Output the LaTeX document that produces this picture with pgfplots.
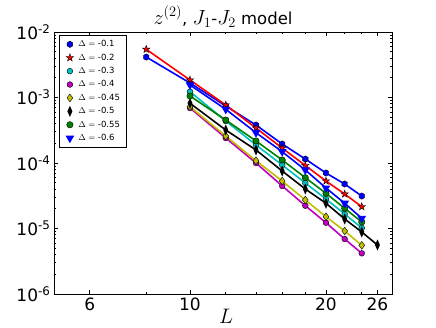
\RequirePackage{fix-cm}
\documentclass[border=0pt]{standalone}
\usepackage{fontspec}
\setmainfont{DejaVu Sans}
\usepackage{pgfplots}
\pgfplotsset{compat=1.18}
\usetikzlibrary{plotmarks}

\definecolor{mcyan}{rgb}{0,0.75,0.75}
\definecolor{mmag}{rgb}{0.75,0,0.75}
\definecolor{myel}{rgb}{0.75,0.75,0}
\definecolor{mgreen}{rgb}{0,0.5,0}

% math in the title is set larger than the text, as in the original
\newcommand\mth[1]{{\fontsize{20.5}{23}\selectfont$#1$}}

% filled hexagon, like matplotlib 'h'
\pgfdeclareplotmark{hexagon*}{%
  \pgfpathmoveto{\pgfpointpolar{90}{1.1\pgfplotmarksize}}%
  \pgfpathlineto{\pgfpointpolar{150}{1.1\pgfplotmarksize}}%
  \pgfpathlineto{\pgfpointpolar{210}{1.1\pgfplotmarksize}}%
  \pgfpathlineto{\pgfpointpolar{270}{1.1\pgfplotmarksize}}%
  \pgfpathlineto{\pgfpointpolar{330}{1.1\pgfplotmarksize}}%
  \pgfpathlineto{\pgfpointpolar{30}{1.1\pgfplotmarksize}}%
  \pgfpathclose\pgfusepathqfillstroke}
% filled five-pointed star, like matplotlib '*'
\pgfdeclareplotmark{fstar}{%
  \pgfpathmoveto{\pgfpointpolar{90}{1.4\pgfplotmarksize}}%
  \pgfpathlineto{\pgfpointpolar{126}{0.55\pgfplotmarksize}}%
  \pgfpathlineto{\pgfpointpolar{162}{1.4\pgfplotmarksize}}%
  \pgfpathlineto{\pgfpointpolar{198}{0.55\pgfplotmarksize}}%
  \pgfpathlineto{\pgfpointpolar{234}{1.4\pgfplotmarksize}}%
  \pgfpathlineto{\pgfpointpolar{270}{0.55\pgfplotmarksize}}%
  \pgfpathlineto{\pgfpointpolar{306}{1.4\pgfplotmarksize}}%
  \pgfpathlineto{\pgfpointpolar{342}{0.55\pgfplotmarksize}}%
  \pgfpathlineto{\pgfpointpolar{18}{1.4\pgfplotmarksize}}%
  \pgfpathlineto{\pgfpointpolar{54}{0.55\pgfplotmarksize}}%
  \pgfpathclose\pgfusepathqfillstroke}

\pgfplotsset{
  ser/.style={color=#1, line width=1.6pt,
    mark options={fill=#1, draw=black, line width=0.4pt, solid}},
}

\begin{document}
\begin{tikzpicture}
\begin{axis}[
  name=ax,
  xmode=log, ymode=log,
  scale only axis, width=338pt, height=262pt,
  xmin=5, xmax=28, ymin=1e-6, ymax=1e-2,
  xtick={6,10,20,26}, xticklabels={6,10,20,26},
  minor xtick={8,12,14,16,18,22,24},
  ytick={1e-6,1e-5,1e-4,1e-3,1e-2},
  yticklabels={10\textsuperscript{-6},10\textsuperscript{-5},10\textsuperscript{-4},
               10\textsuperscript{-3},10\textsuperscript{-2}},
  minor ytick={2e-6,3e-6,4e-6,5e-6,6e-6,7e-6,8e-6,9e-6,
               2e-5,3e-5,4e-5,5e-5,6e-5,7e-5,8e-5,9e-5,
               2e-4,3e-4,4e-4,5e-4,6e-4,7e-4,8e-4,9e-4,
               2e-3,3e-3,4e-3,5e-3,6e-3,7e-3,8e-3,9e-3},
  tick label style={font=\fontsize{17}{19}\selectfont},
  major tick length=4.5pt, minor tick length=2.5pt,
  every tick/.style={black, line width=0.8pt},
  axis line style={line width=0.9pt},
  title={\mth{z^{(2)}}, \mth{J_1}-\mth{J_2} model},
  title style={font=\fontsize{16.5}{18}\selectfont, yshift=-5pt},
  xlabel={$L$},
  xlabel style={font=\fontsize{21}{24}\selectfont, yshift=8pt, xshift=3pt},
  legend style={at={(axis description cs:0.0148,0.9885)}, anchor=north west,
    draw=black, line width=0.8pt, font=\fontsize{8.5}{10}\selectfont,
    row sep=1.6pt, inner xsep=4pt, inner ysep=3pt},
  legend cell align=left,
  legend image code/.code={\draw[#1] plot coordinates {(0.2cm,0cm)};
    \path (0cm,0cm) (0.4cm,0cm);},
]
\addplot[ser=blue, mark=hexagon*, mark size=2.9pt] coordinates {
  (8,4.15e-3)(10,1.665e-3)(12,7.42e-4)(14,3.80e-4)(16,1.95e-4)
  (18,1.15e-4)(20,7.04e-5)(22,4.78e-5)(24,3.13e-5)};
\addplot[ser=red, mark=fstar, mark size=2.8pt] coordinates {
  (8,5.44e-3)(10,1.85e-3)(12,7.68e-4)(14,3.42e-4)(16,1.69e-4)
  (18,9.16e-5)(20,5.31e-5)(22,3.36e-5)(24,2.15e-5)};
\addplot[ser=mcyan, mark=*, mark size=2.9pt] coordinates {
  (10,1.226e-3)(12,4.38e-4)(14,1.883e-4)(16,9.32e-5)
  (18,4.95e-5)(20,2.82e-5)(22,1.665e-5)(24,1.018e-5)};
\addplot[ser=mmag, mark=*, mark size=2.9pt] coordinates {
  (10,6.91e-4)(12,2.41e-4)(14,1.0e-4)(16,4.46e-5)
  (18,2.23e-5)(20,1.226e-5)(22,6.91e-6)(24,4.18e-6)};
\addplot[ser=myel, mark=diamond*, mark size=3.9pt] coordinates {
  (10,7.24e-4)(12,2.58e-4)(14,1.084e-4)(16,5.31e-5)
  (18,2.72e-5)(20,1.514e-5)(22,9.16e-6)(24,5.54e-6)};
\addplot[ser=black, mark=diamond*, mark size=3.6pt,
  mark options={xscale=0.6}] coordinates {
  (10,8.16e-4)(12,3.19e-4)(14,1.579e-4)(16,7.55e-5)
  (18,4.01e-5)(20,2.43e-5)(22,1.396e-5)(24,8.84e-6)(26,5.60e-6)};
\addplot[ser=mgreen, mark=*, mark size=3.2pt] coordinates {
  (10,1.054e-3)(12,4.53e-4)(14,2.17e-4)(16,1.111e-4)
  (18,5.97e-5)(20,3.45e-5)(22,2.03e-5)(24,1.257e-5)};
\addplot[ser=blue, mark=triangle*, mark size=3.4pt,
  mark options={rotate=180}] coordinates {
  (10,1.552e-3)(12,6.60e-4)(14,2.90e-4)(16,1.487e-4)
  (18,7.82e-5)(20,4.15e-5)(22,2.43e-5)(24,1.43e-5)};
\legend{$\Delta={}$-0.1,$\Delta={}$-0.2,$\Delta={}$-0.3,$\Delta={}$-0.4,
        $\Delta={}$-0.45,$\Delta={}$-0.5,$\Delta={}$-0.55,$\Delta={}$-0.6}
\end{axis}
\pgfresetboundingbox
\path[use as bounding box] ([shift={(-54pt,-33pt)}]ax.south west)
  rectangle ([shift={(44pt,32pt)}]ax.north east);
\end{tikzpicture}
\end{document}
